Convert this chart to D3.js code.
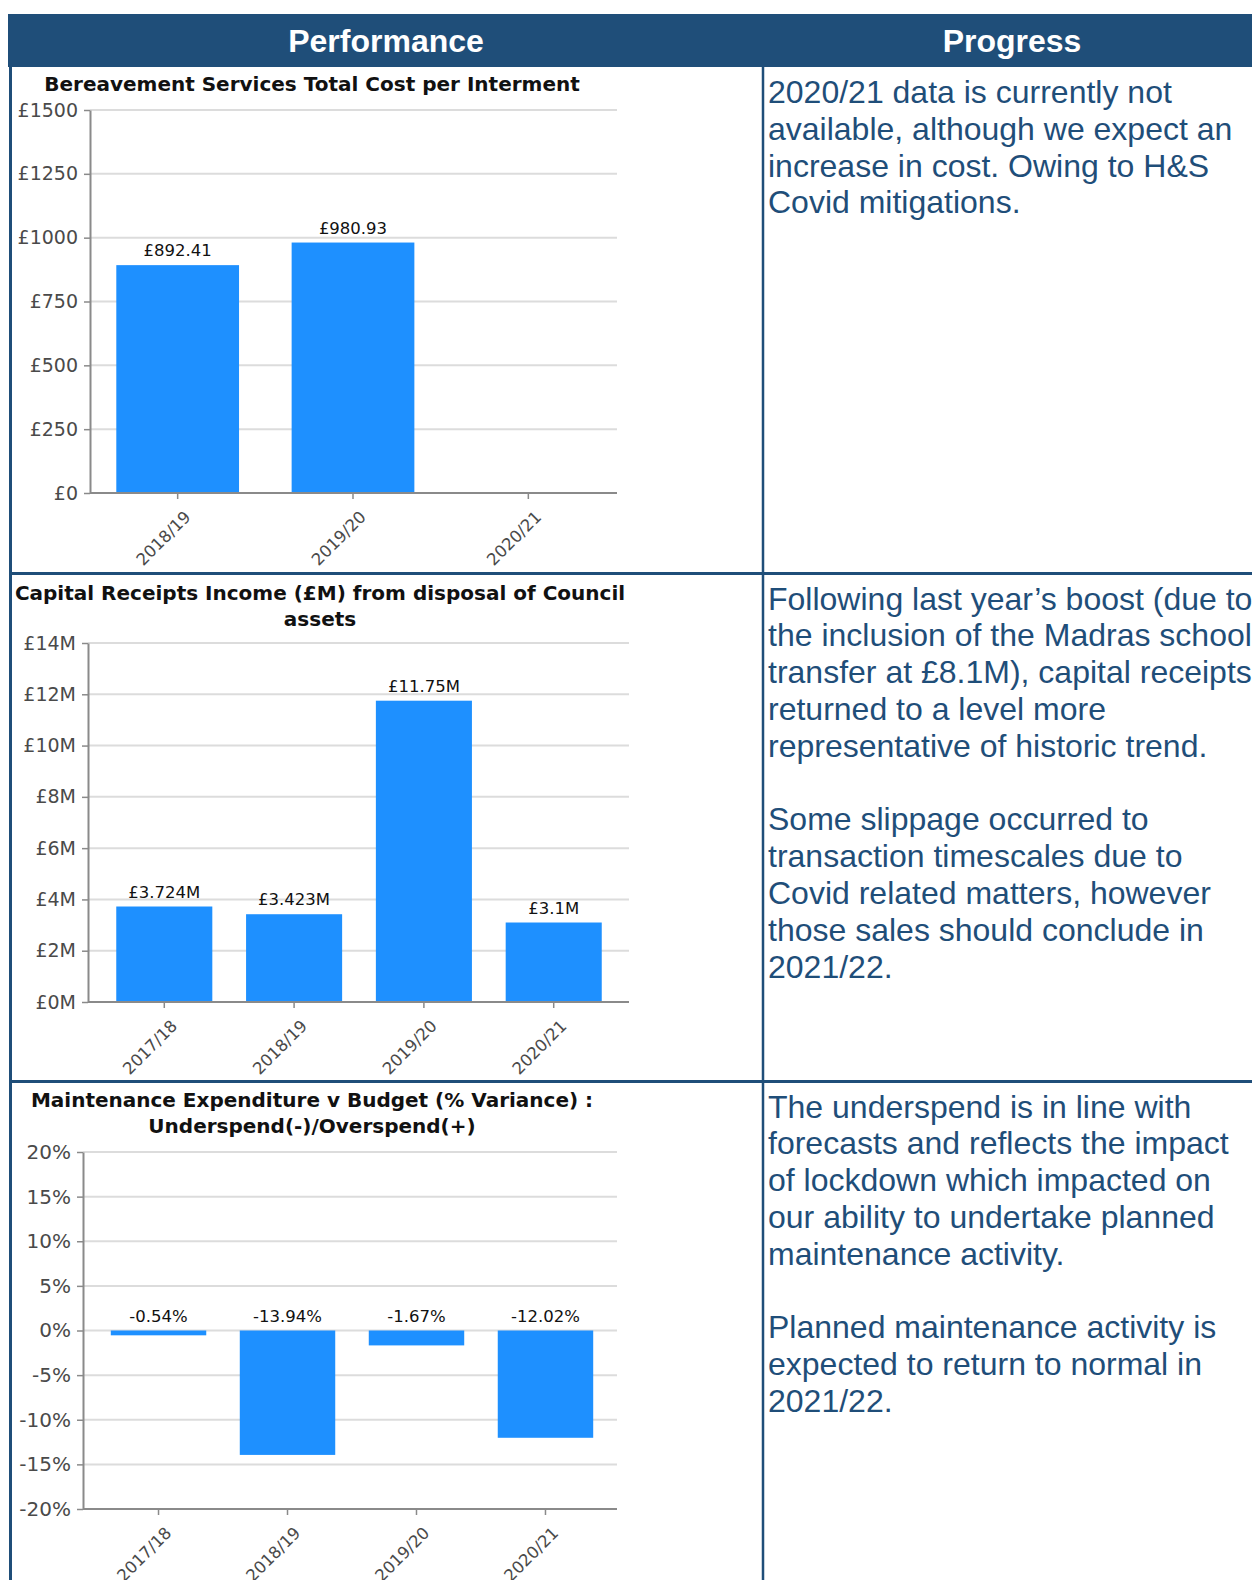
<!DOCTYPE html>
<html>
<head>
<meta charset="utf-8">
<script src="https://cdn.jsdelivr.net/npm/d3@7"></script>
<style>
  body { margin: 0; background: #fff; }
  svg { display: block; }
</style>
</head>
<body>
<svg id="page" width="1252" height="1580"></svg>
<script>
// ---- Data ----
const bereavementYears = ["2018/19", "2019/20", "2020/21"];
const bereavementCost = [892.41, 980.93, null];
const bereavementTicks = [0, 250, 500, 750, 1000, 1250, 1500];

const capitalYears = ["2017/18", "2018/19", "2019/20", "2020/21"];
const capitalReceipts = [3.724, 3.423, 11.75, 3.1];
const capitalTicks = [0, 2, 4, 6, 8, 10, 12, 14];

const maintenanceYears = ["2017/18", "2018/19", "2019/20", "2020/21"];
const maintenanceVariance = [-0.54, -13.94, -1.67, -12.02];
const maintenanceTicks = [-20, -15, -10, -5, 0, 5, 10, 15, 20];

const headers = ["Performance", "Progress"];

const progressNotes = [
  ["2020/21 data is currently not",
   "available, although we expect an",
   "increase in cost. Owing to H&S",
   "Covid mitigations."],
  ["Following last year\u2019s boost (due to",
   "the inclusion of the Madras school",
   "transfer at \u00a38.1M), capital receipts",
   "returned to a level more",
   "representative of historic trend.",
   "",
   "Some slippage occurred to",
   "transaction timescales due to",
   "Covid related matters, however",
   "those sales should conclude in",
   "2021/22."],
  ["The underspend is in line with",
   "forecasts and reflects the impact",
   "of lockdown which impacted on",
   "our ability to undertake planned",
   "maintenance activity.",
   "",
   "Planned maintenance activity is",
   "expected to return to normal in",
   "2021/22."]
];

// ---- Layout ----
const navy = "#1F4E79";
const barBlue = "#1E90FF";
const svg = d3.select("#page");

const headerTop = 14, headerBottom = 67;
const colDivider = 763;
const rowTops = [67, 573.5, 1081.5];

// Table header
svg.append("rect")
  .attr("x", 8).attr("y", headerTop)
  .attr("width", 1252 - 8).attr("height", headerBottom - headerTop)
  .attr("fill", navy);

svg.selectAll("text.header")
  .data(headers)
  .join("text")
  .attr("class", "header")
  .attr("x", (d, i) => i === 0 ? 386 : 1012)
  .attr("y", 52)
  .attr("text-anchor", "middle")
  .attr("fill", "#fff")
  .style("font-family", "'Liberation Sans', Arial, sans-serif")
  .style("font-weight", "bold")
  .style("font-size", "32px")
  .text(d => d);

// Table borders
const borders = svg.append("g").attr("stroke", navy);
borders.append("line").attr("x1", 10.5).attr("x2", 10.5).attr("y1", headerBottom).attr("y2", 1580).attr("stroke-width", 3);
borders.append("line").attr("x1", colDivider).attr("x2", colDivider).attr("y1", headerBottom).attr("y2", 1580).attr("stroke-width", 2.5);
rowTops.slice(1).forEach(yy => {
  borders.append("line").attr("x1", 9).attr("x2", 1252).attr("y1", yy).attr("y2", yy).attr("stroke-width", 3);
});

// Progress commentary
progressNotes.forEach((lines, i) => {
  const t = svg.append("text")
    .attr("x", 768)
    .attr("y", rowTops[i] + 36)
    .attr("fill", navy)
    .style("font-family", "'Liberation Sans', Arial, sans-serif")
    .style("font-size", "32px");
  lines.forEach((ln, j) => {
    t.append("tspan")
      .attr("x", 768)
      .attr("y", rowTops[i] + 36 + j * 36.8)
      .text(ln === "" ? "\u00a0" : ln);
  });
});

// ---- Bar chart builder ----
function barChart(cfg) {
  const g = svg.append("g");
  const x = d3.scaleBand()
    .domain(cfg.categories)
    .range([cfg.bandStart, cfg.bandEnd])
    .paddingInner(cfg.padInner)
    .paddingOuter(cfg.padOuter);
  const y = d3.scaleLinear()
    .domain([cfg.ticks[0], cfg.ticks[cfg.ticks.length - 1]])
    .range([cfg.yBottom, cfg.yTop]);

  // Title
  const title = g.append("text")
    .attr("text-anchor", "middle")
    .attr("fill", "#111")
    .style("font-family", "'DejaVu Sans', Verdana, sans-serif")
    .style("font-weight", "bold")
    .style("font-size", cfg.titleSize + "px");
  cfg.title.forEach((ln, j) => {
    title.append("tspan").attr("x", cfg.titleX).attr("y", cfg.titleY + j * 26).text(ln);
  });

  // Gridlines
  g.append("g")
    .selectAll("line")
    .data(cfg.ticks)
    .join("line")
    .attr("x1", cfg.x0).attr("x2", cfg.gridEnd)
    .attr("y1", d => y(d)).attr("y2", d => y(d))
    .attr("stroke", "#dcdcdc")
    .attr("stroke-width", 2);

  // Bars
  const data = cfg.categories.map((c, i) => ({ c, v: cfg.values[i] })).filter(d => d.v != null);
  g.append("g")
    .selectAll("rect")
    .data(data)
    .join("rect")
    .attr("x", d => x(d.c))
    .attr("width", x.bandwidth())
    .attr("y", d => Math.min(y(d.v), y(0)))
    .attr("height", d => Math.abs(y(d.v) - y(0)))
    .attr("fill", barBlue);

  // Value labels
  g.append("g")
    .selectAll("text")
    .data(data)
    .join("text")
    .attr("x", d => x(d.c) + x.bandwidth() / 2)
    .attr("y", d => Math.min(y(d.v), y(0)) - 9)
    .attr("text-anchor", "middle")
    .attr("fill", "#111")
    .style("font-family", "'DejaVu Sans', Verdana, sans-serif")
    .style("font-size", "16.5px")
    .text(d => cfg.labelFormat(d.v));

  // Y axis
  const yAxis = g.append("g")
    .attr("transform", `translate(${cfg.x0},0)`)
    .call(d3.axisLeft(y).tickValues(cfg.ticks).tickFormat(cfg.tickFormat).tickSize(6).tickSizeOuter(0).tickPadding(6));
  yAxis.select(".domain").attr("stroke", "#8a8a8a").attr("stroke-width", 2);
  yAxis.selectAll(".tick line").attr("stroke", "#8a8a8a").attr("stroke-width", 1.5);
  yAxis.selectAll(".tick text")
    .attr("fill", "#4a4a4a")
    .style("font-family", "'DejaVu Sans', Verdana, sans-serif")
    .style("font-size", cfg.tickSize + "px");

  // X axis
  const xAxis = g.append("g")
    .attr("transform", `translate(0,${cfg.yBottom})`)
    .call(d3.axisBottom(x).tickSize(6).tickSizeOuter(0));
  xAxis.select(".domain").attr("d", `M${cfg.x0},0H${cfg.gridEnd}`).attr("stroke", "#8a8a8a").attr("stroke-width", 2);
  xAxis.selectAll(".tick line").attr("stroke", "#8a8a8a").attr("stroke-width", 1.5);
  xAxis.selectAll(".tick text")
    .attr("x", null).attr("y", null).attr("dy", null)
    .attr("transform", "translate(14,25) rotate(-45)")
    .attr("text-anchor", "end")
    .attr("fill", "#4a4a4a")
    .style("font-family", "'DejaVu Sans', Verdana, sans-serif")
    .style("font-size", "16.5px");
}

// Plain hyphen-minus for signed numbers
const fixed2 = v => v.toFixed(2);

barChart({
  title: ["Bereavement Services Total Cost per Interment"],
  titleX: 312, titleY: 91, titleSize: 20,
  categories: bereavementYears,
  values: bereavementCost,
  ticks: bereavementTicks,
  tickFormat: d => "\u00a3" + d,
  labelFormat: v => "\u00a3" + fixed2(v),
  tickSize: 19,
  x0: 90, gridEnd: 617,
  bandStart: 90, bandEnd: 616,
  padInner: 0.3, padOuter: 0.15,
  yTop: 110, yBottom: 493
});

barChart({
  title: ["Capital Receipts Income (\u00a3M) from disposal of Council", "assets"],
  titleX: 320, titleY: 600, titleSize: 20,
  categories: capitalYears,
  values: capitalReceipts,
  ticks: capitalTicks,
  tickFormat: d => "\u00a3" + d + "M",
  labelFormat: v => "\u00a3" + v + "M",
  tickSize: 19,
  x0: 88, gridEnd: 629,
  bandStart: 89, bandEnd: 629,
  padInner: 0.26, padOuter: 0.21,
  yTop: 643, yBottom: 1002
});

barChart({
  title: ["Maintenance Expenditure v Budget (% Variance) :", "Underspend(-)/Overspend(+)"],
  titleX: 312, titleY: 1107, titleSize: 20,
  categories: maintenanceYears,
  values: maintenanceVariance,
  ticks: maintenanceTicks,
  tickFormat: d => d + "%",
  labelFormat: v => fixed2(v) + "%",
  tickSize: 20,
  x0: 83, gridEnd: 617,
  bandStart: 85, bandEnd: 619,
  padInner: 0.26, padOuter: 0.2,
  yTop: 1152, yBottom: 1509
});
</script>
</body>
</html>
